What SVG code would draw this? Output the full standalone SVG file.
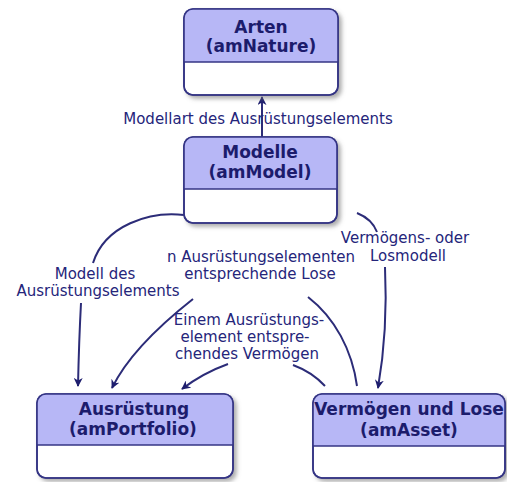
<svg xmlns="http://www.w3.org/2000/svg" width="507" height="482" viewBox="0 0 507 482">
<defs>
<style>
.box{fill:#ffffff;stroke:#343484;stroke-width:1.6}
.hdr{fill:#b7b7f6;stroke:none}
.div{stroke:#343484;stroke-width:1.4;fill:none}
.title{font-family:"DejaVu Sans",Verdana,sans-serif;font-weight:bold;font-size:17px;fill:#1c1c6c;text-anchor:middle}
.lbl{font-family:"DejaVu Sans",Verdana,sans-serif;font-size:15px;fill:#25257a;text-anchor:middle}
.con{fill:none;stroke:#2c2c78;stroke-width:2}
</style>
<filter id="sh" x="-10%" y="-10%" width="130%" height="140%">
<feDropShadow dx="3" dy="3" stdDeviation="2" flood-color="#777" flood-opacity="0.6"/>
</filter>
<marker id="arr" viewBox="0 0 10 10" refX="9" refY="5" markerWidth="9" markerHeight="9" markerUnits="userSpaceOnUse" orient="auto">
<path d="M0,0 L10,5 L0,10 L3,5 Z" fill="#1e1e6e"/>
</marker>
</defs>

<g id="connectors">
<path class="con" d="M262,137 L262,97" marker-end="url(#arr)"/>
<path class="con" d="M184,215 C150,211 105,225 93,263"/>
<path class="con" d="M81,303 Q79,340 78,386" marker-end="url(#arr)"/>
<path class="con" d="M357,386 C352,350 335,318 308,297"/>
<path class="con" d="M193,299 C160,325 128,355 112,388" marker-end="url(#arr)"/>
<path class="con" d="M325,386 Q312,372 293,365"/>
<path class="con" d="M228,364 Q203,373 182,389" marker-end="url(#arr)"/>
<path class="con" d="M357,213 Q372,219 377,232"/>
<path class="con" d="M385,267 Q388,330 378,388" marker-end="url(#arr)"/>
<text class="lbl" x="258" y="124">Modellart des Ausrüstungselements</text>
<text class="lbl" x="95" y="279">Modell des</text>
<text class="lbl" x="98" y="296">Ausrüstungselements</text>
<text class="lbl" x="261" y="262">n Ausrüstungselementen</text>
<text class="lbl" x="260" y="279">entsprechende Lose</text>
<text class="lbl" x="249" y="325">Einem Ausrüstungs-</text>
<text class="lbl" x="245" y="342">element entspre-</text>
<text class="lbl" x="247" y="359">chendes Vermögen</text>
<text class="lbl" x="405" y="243">Vermögens- oder</text>
<text class="lbl" x="408" y="261">Losmodell</text>
</g>

<g id="arten">
<rect class="box" x="184" y="9" width="154" height="86" rx="9" filter="url(#sh)"/>
<path class="hdr" d="M184,62 V18 Q184,9 193,9 H329 Q338,9 338,18 V62 Z"/>
<line class="div" x1="184" y1="62" x2="338" y2="62"/>
<rect class="box" x="184" y="9" width="154" height="86" rx="9" fill="none" style="fill:none"/>
<text class="title" x="261" y="33">Arten</text>
<text class="title" x="261" y="52">(amNature)</text>
</g>

<g id="modelle">
<rect class="box" x="184" y="137" width="153" height="86" rx="9" filter="url(#sh)"/>
<path class="hdr" d="M184,189 V146 Q184,137 193,137 H328 Q337,137 337,146 V189 Z"/>
<line class="div" x1="184" y1="189" x2="337" y2="189"/>
<rect class="box" x="184" y="137" width="153" height="86" rx="9" style="fill:none"/>
<text class="title" x="260" y="158">Modelle</text>
<text class="title" x="260" y="178">(amModel)</text>
</g>

<g id="ausruestung">
<rect class="box" x="37" y="394" width="196" height="84" rx="9" filter="url(#sh)"/>
<path class="hdr" d="M37,445 V403 Q37,394 46,394 H224 Q233,394 233,403 V445 Z"/>
<line class="div" x1="37" y1="445" x2="233" y2="445"/>
<rect class="box" x="37" y="394" width="196" height="84" rx="9" style="fill:none"/>
<text class="title" x="134" y="415">Ausrüstung</text>
<text class="title" x="133" y="435">(amPortfolio)</text>
</g>

<g id="vermoegen">
<rect class="box" x="313" y="394" width="192" height="84" rx="9" filter="url(#sh)"/>
<path class="hdr" d="M313,446 V403 Q313,394 322,394 H496 Q505,394 505,403 V446 Z"/>
<line class="div" x1="313" y1="446" x2="505" y2="446"/>
<rect class="box" x="313" y="394" width="192" height="84" rx="9" style="fill:none"/>
<text class="title" x="409" y="415">Vermögen und Lose</text>
<text class="title" x="409" y="436">(amAsset)</text>
</g>
</svg>
